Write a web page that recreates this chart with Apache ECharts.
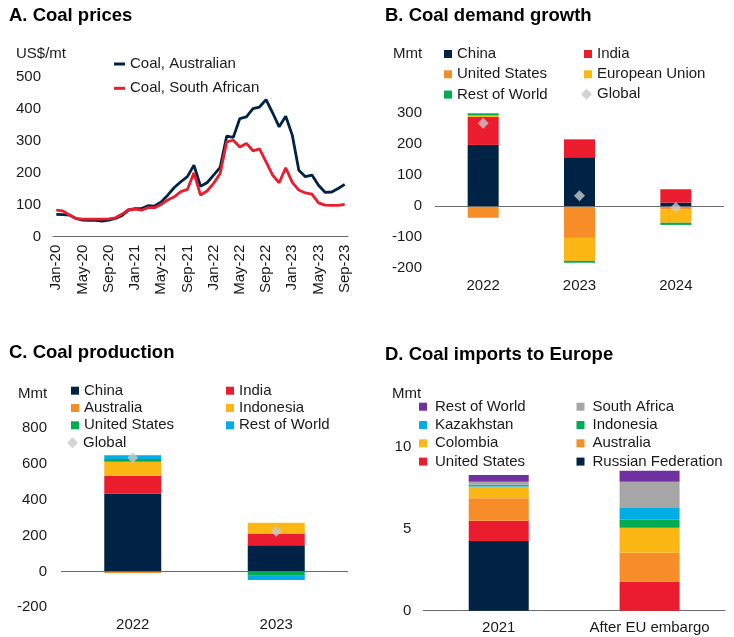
<!DOCTYPE html>
<html>
<head>
<meta charset="utf-8">
<script src="https://cdn.jsdelivr.net/npm/echarts@6/dist/echarts.min.js"></script>
<style>
  html, body { margin: 0; padding: 0; background: #fff; }
  #chart { width: 734px; height: 637px; }
</style>
</head>
<body>
<div id="chart"></div>
<script>
// ---- A. Coal prices (US$/mt, monthly) ----
const months = [
  'Jan-20','Feb-20','Mar-20','Apr-20','May-20','Jun-20','Jul-20','Aug-20','Sep-20','Oct-20','Nov-20','Dec-20',
  'Jan-21','Feb-21','Mar-21','Apr-21','May-21','Jun-21','Jul-21','Aug-21','Sep-21','Oct-21','Nov-21','Dec-21',
  'Jan-22','Feb-22','Mar-22','Apr-22','May-22','Jun-22','Jul-22','Aug-22','Sep-22','Oct-22','Nov-22','Dec-22',
  'Jan-23','Feb-23','Mar-23','Apr-23','May-23','Jun-23','Jul-23','Aug-23','Sep-23'
];
const coalAustralian = [
  70, 69, 68, 57, 52, 51, 51, 49, 52, 57, 66, 83,
  88, 88, 97, 96, 109, 130, 154, 172, 188, 224, 158, 169,
  193, 217, 315, 311, 370, 375, 401, 406, 429, 388, 344, 377,
  318, 208, 188, 193, 161, 139, 140, 151, 164
];
const coalSouthAfrican = [
  83, 81, 68, 57, 55, 55, 55, 55, 56, 59, 70, 85,
  86, 83, 91, 91, 101, 115, 125, 141, 148, 200, 130, 143,
  167, 198, 297, 302, 281, 292, 269, 275, 234, 193, 169, 216,
  170, 146, 137, 133, 106, 99, 98, 98, 101
];
const priceTicks = { min: 0, max: 500, step: 100 };

// ---- B. Coal demand growth (Mmt) ----
const demandYears = ['2022', '2023', '2024'];
const demandChina = [198, 158, 12];
const demandIndia = [90, 58, 43];
const demandUS = [-37, -102, -10];
const demandEU = [5, -74, -43];
const demandRoW = [9, -6, -7];
const demandGlobal = [268, 34, -4];
const demandTicks = { min: -200, max: 300, step: 100 };

// ---- C. Coal production (Mmt) ----
const prodYears = ['2022', '2023'];
const prodChina = [436, 147];
const prodIndia = [99, 63];
const prodAustralia = [-8, 4];
const prodIndonesia = [78, 58];
const prodUS = [15, -24];
const prodRoW = [22, -24];
const prodGlobal = [636, 225];
const prodTicks = { min: -200, max: 800, step: 200 };

// ---- D. Coal imports to Europe (Mmt) ----
const importCats = ['2021', 'After EU embargo'];
const impRussia = [4.25, 0];
const impUS = [1.24, 1.77];
const impAustralia = [1.36, 1.77];
const impColombia = [0.71, 1.52];
const impIndonesia = [0.02, 0.49];
const impKazakhstan = [0.1, 0.71];
const impSouthAfrica = [0.19, 1.61];
const impRoW = [0.4, 0.67];
const importTicks = { min: 0, max: 10, step: 5 };

// ---- palette ----
const C = {
  navy: '#002345', red: '#EB1C2D', orange: '#F78D28', yellow: '#FDB714',
  green: '#00AB51', blue: '#00ADE4', purple: '#7030A0', grey: '#A6A6A6',
  diamond: '#C8C8C8', axis: '#6b6b6b', text: '#1a1a1a'
};
const FONT = "'Liberation Sans', Arial, Helvetica, sans-serif";

// grids: A top-left, B top-right, C bottom-left, D bottom-right
const grids = [
  { left: 53, top: 77, width: 295, height: 159.7 },
  { left: 435, top: 113.3, width: 289, height: 155 },
  { left: 61, top: 428.3, width: 287, height: 179 },
  { left: 423.3, top: 446.7, width: 301.7, height: 164 }
];

const axisLabel = { color: C.text, fontSize: 15, fontFamily: FONT };

function catAxis(gridIndex, data, extra) {
  return Object.assign({
    type: 'category', gridIndex, data,
    axisTick: { show: false },
    axisLine: { show: false, onZero: false },
    axisLabel: Object.assign({}, axisLabel, { margin: 10, interval: 0 })
  }, extra || {});
}
function valAxis(gridIndex, t, margin) {
  return {
    type: 'value', gridIndex, min: t.min, max: t.max, interval: t.step,
    splitLine: { show: false }, axisLine: { show: false }, axisTick: { show: false },
    axisLabel: Object.assign({}, axisLabel, { margin })
  };
}

const zeroLine = {
  silent: true, symbol: ['none', 'none'], label: { show: false },
  lineStyle: { color: C.axis, width: 1, type: 'solid' },
  emphasis: { disabled: true },
  data: [{ yAxis: 0 }]
};

function bar(name, data, color, idx, width, withZero) {
  const s = {
    type: 'bar', name, data, xAxisIndex: idx, yAxisIndex: idx,
    stack: 'stack' + idx, barWidth: width,
    itemStyle: { color }
  };
  if (withZero) s.markLine = zeroLine;
  return s;
}
function globalMarks(name, data, idx) {
  return {
    type: 'scatter', name, data, xAxisIndex: idx, yAxisIndex: idx,
    symbol: 'diamond', symbolSize: 11, z: 5,
    itemStyle: { color: C.diamond }
  };
}

const legendBase = {
  orient: 'vertical', padding: 0, itemWidth: 8, itemHeight: 8, icon: 'rect',
  selectedMode: false,
  textStyle: { color: C.text, fontSize: 15, fontFamily: FONT },
  formatter: n => n.split('|')[1]
};
function legend(left, top, gap, names, extra) {
  return Object.assign({}, legendBase, {
    left, top, itemGap: gap,
    textStyle: Object.assign({}, legendBase.textStyle, (extra && extra.text) || {}),
    data: names
  }, (extra && extra.box) || {});
}
const diamondKey = { box: { icon: 'diamond', itemWidth: 11, itemHeight: 11 } };

const titleStyle = { color: '#000', fontSize: 18.5, fontWeight: 'bold', fontFamily: FONT };

const option = {
  animation: false,
  backgroundColor: '#fff',
  title: [
    { text: 'A. Coal prices', left: 9, top: 6, textStyle: titleStyle, padding: 0 },
    { text: 'B. Coal demand growth', left: 385, top: 6, textStyle: titleStyle, padding: 0 },
    { text: 'C. Coal production', left: 9, top: 343, textStyle: titleStyle, padding: 0 },
    { text: 'D. Coal imports to Europe', left: 385, top: 345, textStyle: titleStyle, padding: 0 }
  ],
  grid: grids,
  legend: [
    Object.assign({}, legendBase, {
      left: 114, top: 56.5, itemGap: 9.3, itemWidth: 11, itemHeight: 3,
      data: ['A|Coal, Australian', 'A|Coal, South African']
    }),
    legend(444, 46.5, 5.3, ['B|China', 'B|United States', 'B|Rest of World']),
    legend(584, 46.5, 5.3, ['B|India', 'B|European Union']),
    legend(581, 86.8, 0, ['B|Global'], diamondKey),
    legend(71, 383.2, 2.3, ['C|China', 'C|Australia', 'C|United States']),
    legend(67, 435.2, 0, ['C|Global'], diamondKey),
    legend(226, 383.2, 2.3, ['C|India', 'C|Indonesia', 'C|Rest of World']),
    legend(419, 399.2, 3.3, ['D|Rest of World', 'D|Kazakhstan', 'D|Colombia', 'D|United States'], { text: { padding: [0, 0, 0, 3] } }),
    legend(576.5, 399.2, 3.3, ['D|South Africa', 'D|Indonesia', 'D|Australia', 'D|Russian Federation'], { text: { padding: [0, 0, 0, 3] } })
  ],
  xAxis: [
    catAxis(0, months, {
      boundaryGap: true,
      axisLine: { show: true, onZero: false, lineStyle: { color: C.axis, width: 1 } },
      axisLabel: Object.assign({}, axisLabel, { rotate: 90, interval: 3, margin: 8 })
    }),
    catAxis(1, demandYears),
    catAxis(2, prodYears),
    catAxis(3, importCats, {
      axisLine: { show: true, onZero: false, lineStyle: { color: C.axis, width: 1 } }
    })
  ],
  yAxis: [
    valAxis(0, priceTicks, 12),
    valAxis(1, demandTicks, 13),
    valAxis(2, prodTicks, 14),
    valAxis(3, importTicks, 12)
  ],
  graphic: [
    { type: 'text', left: 16, top: 46, style: { text: 'US$/mt', fill: C.text, font: '15px ' + FONT } },
    { type: 'text', left: 393, top: 46.5, style: { text: 'Mmt', fill: C.text, font: '15px ' + FONT } },
    { type: 'text', left: 18, top: 386, style: { text: 'Mmt', fill: C.text, font: '15px ' + FONT } },
    { type: 'text', left: 392, top: 386.5, style: { text: 'Mmt', fill: C.text, font: '15px ' + FONT } }
  ],
  series: [
    // A
    { type: 'line', name: 'A|Coal, Australian', data: coalAustralian, xAxisIndex: 0, yAxisIndex: 0,
      showSymbol: false, symbol: 'none', lineStyle: { color: C.navy, width: 2.8 }, itemStyle: { color: C.navy } },
    { type: 'line', name: 'A|Coal, South African', data: coalSouthAfrican, xAxisIndex: 0, yAxisIndex: 0,
      showSymbol: false, symbol: 'none', lineStyle: { color: C.red, width: 2.8 }, itemStyle: { color: C.red } },
    // B
    bar('B|China', demandChina, C.navy, 1, 31, true),
    bar('B|India', demandIndia, C.red, 1, 31),
    bar('B|United States', demandUS, C.orange, 1, 31),
    bar('B|European Union', demandEU, C.yellow, 1, 31),
    bar('B|Rest of World', demandRoW, C.green, 1, 31),
    globalMarks('B|Global', demandGlobal, 1),
    // C
    bar('C|China', prodChina, C.navy, 2, 57, true),
    bar('C|India', prodIndia, C.red, 2, 57),
    bar('C|Australia', prodAustralia, C.orange, 2, 57),
    bar('C|Indonesia', prodIndonesia, C.yellow, 2, 57),
    bar('C|United States', prodUS, C.green, 2, 57),
    bar('C|Rest of World', prodRoW, C.blue, 2, 57),
    globalMarks('C|Global', prodGlobal, 2),
    // D
    bar('D|Russian Federation', impRussia, C.navy, 3, 60),
    bar('D|United States', impUS, C.red, 3, 60),
    bar('D|Australia', impAustralia, C.orange, 3, 60),
    bar('D|Colombia', impColombia, C.yellow, 3, 60),
    bar('D|Indonesia', impIndonesia, C.green, 3, 60),
    bar('D|Kazakhstan', impKazakhstan, C.blue, 3, 60),
    bar('D|South Africa', impSouthAfrica, C.grey, 3, 60),
    bar('D|Rest of World', impRoW, C.purple, 3, 60)
  ]
};

const chart = echarts.init(document.getElementById('chart'), null, { renderer: 'canvas' });
chart.setOption(option);
</script>
</body>
</html>
